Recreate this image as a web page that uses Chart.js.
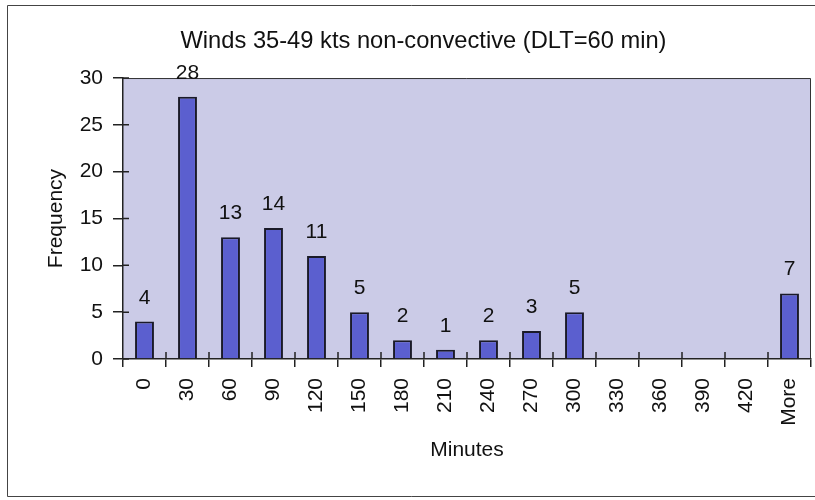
<!DOCTYPE html>
<html>
<head>
<meta charset="utf-8">
<script src="https://cdn.jsdelivr.net/npm/chart.js@4.4.1/dist/chart.umd.min.js"></script>
<style>
    html, body { margin: 0; background: #fff; overflow: hidden; }
    #wrap { position: absolute; left: 0; top: 0; width: 815px; height: 500px; }
</style>
</head>
<body>
<div id="wrap"><canvas id="histo-chart"></canvas></div>
<script>
// data
const minuteBins = ['0', '30', '60', '90', '120', '150', '180', '210', '240', '270', '300', '330', '360', '390', '420', 'More'];
const frequencies = [4, 28, 13, 14, 11, 5, 2, 1, 2, 3, 5, 0, 0, 0, 0, 7];
const frequencyTicks = [0, 5, 10, 15, 20, 25, 30];

const FONT = "'Liberation Sans', Arial, sans-serif";
const INK = '#111';

// outer chart frame (open on the right, cut by the scan) + plot area fill
const plotBox = {
    id: 'plotBox',
    beforeDraw(chart) {
        const { ctx, chartArea: a, width, height } = chart;
        ctx.save();
        ctx.strokeStyle = '#444';
        ctx.lineWidth = 1;
        ctx.beginPath();
        ctx.moveTo(width, 5.5);
        ctx.lineTo(7.5, 5.5);
        ctx.lineTo(7.5, height - 3.5);
        ctx.lineTo(width, height - 3.5);
        ctx.stroke();

        ctx.fillStyle = '#cbcbe7';
        ctx.fillRect(a.left, a.top, a.right - a.left, a.bottom - a.top);
        ctx.strokeStyle = '#333';
        ctx.beginPath();
        ctx.moveTo(a.left, a.top + 0.5);
        ctx.lineTo(a.right - 0.5, a.top + 0.5);
        ctx.lineTo(a.right - 0.5, a.bottom);
        ctx.stroke();
        ctx.restore();
    }
};

// tick marks that cross into the plot, like Excel's "cross" ticks
const crossTicks = {
    id: 'crossTicks',
    afterDraw(chart) {
        const { ctx, chartArea: a, scales } = chart;
        ctx.save();
        ctx.strokeStyle = '#222';
        ctx.lineWidth = 1.5;
        ctx.beginPath();
        scales.y.ticks.forEach((t, i) => {
            const y = scales.y.getPixelForTick(i);
            ctx.moveTo(a.left, y);
            ctx.lineTo(a.left + 6, y);
        });
        for (let i = 1; i < minuteBins.length; i++) {
            const x = (scales.x.getPixelForTick(i - 1) + scales.x.getPixelForTick(i)) / 2;
            ctx.moveTo(x, a.bottom);
            ctx.lineTo(x, a.bottom - 7);
        }
        ctx.stroke();
        ctx.restore();
    }
};

// value labels above non-zero bars
const barLabels = {
    id: 'barLabels',
    afterDatasetsDraw(chart) {
        const { ctx } = chart;
        const meta = chart.getDatasetMeta(0);
        ctx.save();
        ctx.font = '21px ' + FONT;
        ctx.fillStyle = INK;
        ctx.textAlign = 'center';
        ctx.textBaseline = 'alphabetic';
        meta.data.forEach((bar, i) => {
            if (!frequencies[i]) return;
            ctx.fillText(String(frequencies[i]), bar.x, bar.y - 18);
        });
        ctx.restore();
    }
};

new Chart(document.getElementById('histo-chart'), {
    type: 'bar',
    data: {
        labels: minuteBins,
        datasets: [
            {
                label: 'Frequency',
                data: frequencies,
                backgroundColor: '#5b5fcf',
                borderColor: '#1a1a28',
                borderWidth: 2,
                borderSkipped: 'bottom',
                barPercentage: 0.44,
                categoryPercentage: 1,
            }
        ]
    },
    options: {
        responsive: true,
        maintainAspectRatio: false,
        animation: false,
        layout: {
            padding: { left: 36, right: 4, top: 0, bottom: 30 },
        },
        plugins: {
            legend: { display: false },
            tooltip: { enabled: false },
            title: {
                display: true,
                text: 'Winds 35-49 kts non-convective (DLT=60 min)',
                color: INK,
                font: { family: FONT, size: 23.7, weight: 'normal' },
                padding: { top: 27, bottom: 22.6 },
            },
        },
        scales: {
            x: {
                afterFit(scale) {
                    scale.height = 111;
                    scale.paddingLeft = 0;
                    scale.paddingRight = 0;
                },
                grid: { drawOnChartArea: false, tickLength: 8, color: '#222', lineWidth: 1.5 },
                border: { display: true, color: '#222', width: 1.5 },
                ticks: {
                    color: INK,
                    autoSkip: false,
                    minRotation: 90,
                    maxRotation: 90,
                    padding: 11,
                    font: { family: FONT, size: 21 },
                },
                title: {
                    display: true,
                    text: 'Minutes',
                    color: INK,
                    font: { family: FONT, size: 21 },
                    padding: { top: 8, bottom: 7 },
                },
            },
            y: {
                min: 0,
                max: 30,
                afterFit(scale) { scale.width = 87; },
                afterBuildTicks(scale) { scale.ticks = frequencyTicks.map(v => ({ value: v })); },
                grid: { drawOnChartArea: false, tickLength: 10, color: '#222', lineWidth: 1.5 },
                border: { display: true, color: '#222', width: 1.5 },
                ticks: {
                    color: INK,
                    padding: 10,
                    font: { family: FONT, size: 21 },
                },
                title: {
                    display: true,
                    text: 'Frequency',
                    color: INK,
                    font: { family: FONT, size: 21 },
                    padding: { top: 8, bottom: 8 },
                },
            },
        },
    },
    plugins: [plotBox, crossTicks, barLabels],
});
</script>
</body>
</html>
